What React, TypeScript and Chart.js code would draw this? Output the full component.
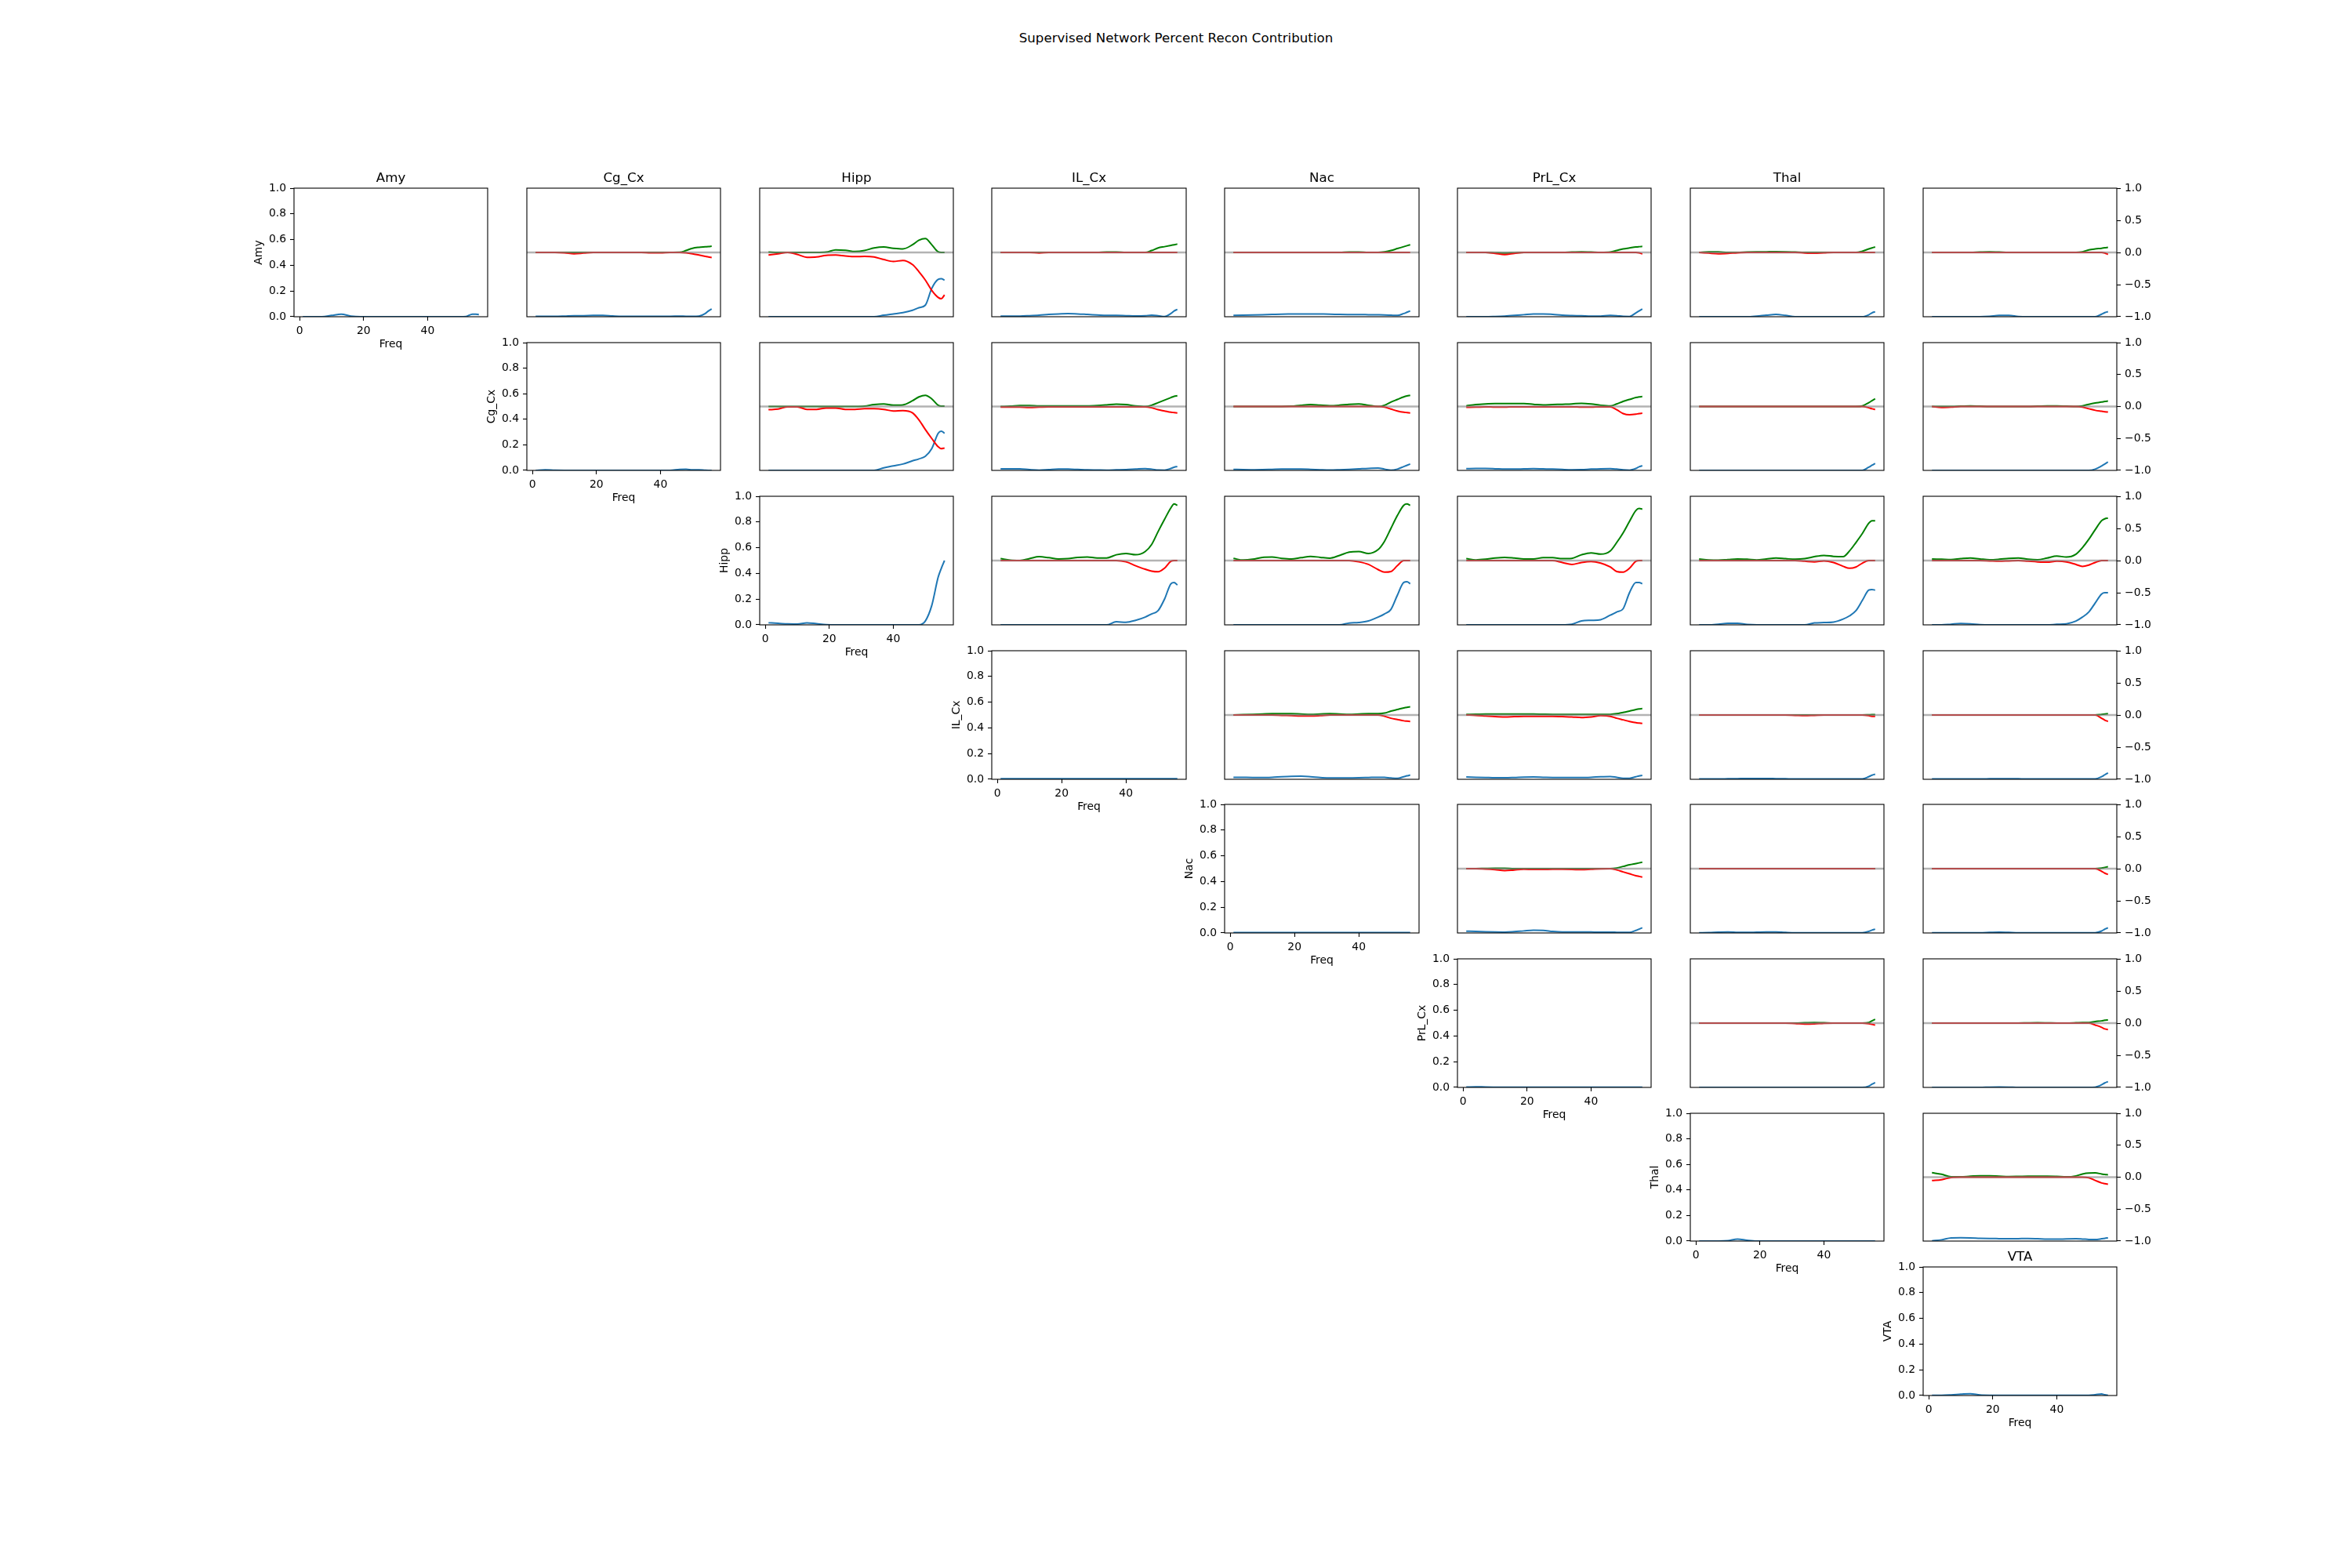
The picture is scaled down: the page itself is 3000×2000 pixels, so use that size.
import React, { useEffect, useRef } from 'react';
import { Chart, registerables } from 'chart.js';

Chart.register(...registerables);
Chart.defaults.font.family = 'DejaVu Sans';
Chart.defaults.color = '#000';

// ---------- labels / ticks ----------
const SUPTITLE = 'Supervised Network Percent Recon Contribution';
const REGIONS = ['Amy', 'Cg_Cx', 'Hipp', 'IL_Cx', 'Nac', 'PrL_Cx', 'Thal', 'VTA'];
const X_LABEL = 'Freq';
const X_TICKS = [0, 20, 40];
const Y_TICKS = [0, 0.2, 0.4, 0.6, 0.8, 1.0];
const Y2_TICKS = [-1, -0.5, 0, 0.5, 1];
const X_RANGE = [-1.75, 58.75];

// ---------- data (frequency knots shared by every series) ----------
const FREQ = [1, 4, 7, 10, 13, 16, 19, 22, 25, 28, 31, 34, 37, 40, 43, 46, 48, 50, 52, 54, 55, 56];

// diagonal: power of each region (left axis 0..1)
const D_0 = [0,0,0,0.01,0.02,0.005,0,0,0,0,0,0,0,0,0,0,0,0,0.002,0.02,0.02,0.017];
const D_1 = [0,0.005,0.001,0,0,0,0,0,0,0,0,0,0,0,0,0.008,0.009,0.004,0.005,0.001,0,0];
const D_2 = [0.016,0.012,0.007,0.006,0.016,0.009,0.002,0,0,0,0,0,0,0,0,0,0,0.03,0.15,0.37,0.44,0.5];
const D_3 = [0.004,0.004,0.004,0.004,0.004,0.004,0.004,0.004,0.004,0.004,0.004,0.004,0.004,0.004,0.004,0.004,0.004,0.004,0.004,0.004,0.004,0.004];
const D_4 = [0.003,0.003,0.003,0.003,0.003,0.003,0.003,0.003,0.003,0.003,0.003,0.003,0.003,0.003,0.003,0.003,0.003,0.003,0.003,0.003,0.003,0.003];
const D_5 = [0.003,0.005,0.003,0.002,0.002,0.002,0.002,0.002,0.002,0.002,0.002,0.002,0.002,0.002,0.002,0.002,0.002,0.002,0.002,0.002,0.002,0.002];
const D_6 = [0,0,0,0.003,0.016,0.006,0,0,0,0,0,0,0,0,0,0,0,0,0,0,0,0];
const D_7 = [0.002,0.002,0.005,0.01,0.014,0.004,0.002,0.002,0.002,0.002,0.002,0.002,0.002,0.002,0.002,0.002,0.002,0.002,0.006,0.012,0.006,0.002];

// off-diagonal: B = blue (left axis 0..1), G = green, R = red (right axis -1..1)
const B_01 = [0.003,0.003,0.003,0.005,0.008,0.008,0.01,0.01,0.006,0.003,0.003,0.003,0.003,0.003,0.003,0.005,0.003,0.003,0.005,0.025,0.045,0.06];
const G_01 = [0,0,0,0,0,0,0,0,0,0,0,0,0,0,0,0.002,0.03,0.065,0.08,0.088,0.092,0.097];
const R_01 = [0,0,0,-0.005,-0.02,-0.01,0,0,0,0,0,0,-0.005,-0.005,0,0,-0.005,-0.02,-0.04,-0.06,-0.07,-0.078];
const B_02 = [0,0,0,0,0,0,0,0,0,0,0,0,0.012,0.022,0.032,0.05,0.07,0.09,0.22,0.29,0.295,0.285];
const G_02 = [0.005,0,0,0,0,0,0.005,0.04,0.035,0.015,0.03,0.07,0.085,0.065,0.055,0.12,0.19,0.215,0.12,0.01,0,0];
const R_02 = [-0.04,-0.02,0,-0.03,-0.075,-0.07,-0.045,-0.04,-0.055,-0.065,-0.06,-0.07,-0.11,-0.14,-0.125,-0.19,-0.3,-0.43,-0.59,-0.7,-0.72,-0.66];
const B_03 = [0.005,0.005,0.005,0.008,0.012,0.018,0.022,0.024,0.022,0.018,0.014,0.01,0.01,0.008,0.006,0.008,0.012,0.008,0.002,0.025,0.045,0.057];
const G_03 = [0,0,0,0,0,0,0,0,0,0,0,0.005,0.005,0,0,0,0.03,0.07,0.09,0.11,0.12,0.13];
const R_03 = [0,0,0,0,-0.008,0,0,0,0,0,0,0,0,0,0,0,0,0,0,0,0,0];
const B_04 = [0.01,0.012,0.014,0.016,0.018,0.02,0.021,0.022,0.022,0.021,0.02,0.018,0.017,0.017,0.016,0.015,0.014,0.012,0.01,0.025,0.035,0.045];
const G_04 = [0,0,0,0,0,0,0,0,0,0,0,0,0.005,0.005,0,0,0.01,0.03,0.06,0.09,0.105,0.12];
const R_04 = [0,0,0,0,0,0,0,0,0,0,0,0,0,0,0,0,0,0,0,0,0,0];
const B_05 = [0,0,0,0.002,0.005,0.01,0.016,0.022,0.022,0.018,0.012,0.009,0.007,0.004,0.005,0.01,0.008,0.003,0.002,0.03,0.045,0.06];
const G_05 = [0,0,0,-0.005,-0.01,-0.005,0,0,0,0,0,0.005,0.01,0.005,0,0.005,0.03,0.055,0.07,0.085,0.09,0.094];
const R_05 = [0,0,0,-0.015,-0.033,-0.015,0,0,0,0,0,0,0,0,0,0,0,0,0,0,-0.005,-0.025];
const B_06 = [0,0,0,0,0,0,0.005,0.012,0.018,0.01,0,0,0,0,0,0,0,0,0,0.015,0.03,0.039];
const G_06 = [0,0.008,0.008,0,0,0.005,0.008,0.01,0.012,0.01,0.005,0,0,0,0,0,0,0,0.02,0.055,0.07,0.086];
const R_06 = [0,-0.01,-0.02,-0.015,-0.005,0,0,0,0,0,0,-0.008,-0.012,-0.006,0,0,0,0,0,0,0,0];
const B_07 = [0,0,0,0,0,0,0.003,0.01,0.01,0.002,0,0,0,0,0,0,0,0,0,0.02,0.032,0.04];
const G_07 = [0,0,0,0,0,0.006,0.01,0.005,0,0,0,0,0,0,0,0,0.01,0.04,0.055,0.065,0.072,0.078];
const R_07 = [0,0,0,0,0,0,0,0,0,0,0,0,0,0,0,0,0,0,0,0,-0.01,-0.03];

const B_12 = [0,0,0,0,0,0,0,0,0,0,0,0,0.02,0.035,0.05,0.075,0.09,0.11,0.17,0.29,0.307,0.29];
const G_12 = [0,0,0,0,0,0,0,0,0,0,0.005,0.03,0.04,0.02,0.025,0.09,0.15,0.175,0.12,0.02,0.005,0.005];
const R_12 = [-0.05,-0.04,-0.005,-0.005,-0.045,-0.045,-0.025,-0.025,-0.045,-0.045,-0.035,-0.035,-0.045,-0.07,-0.065,-0.1,-0.21,-0.36,-0.5,-0.63,-0.66,-0.65];
const B_13 = [0.012,0.013,0.012,0.006,0.002,0.006,0.01,0.01,0.007,0.004,0.003,0.002,0.004,0.006,0.01,0.014,0.01,0.003,0.002,0.015,0.025,0.03];
const G_13 = [0,0.005,0.015,0.015,0.01,0.01,0.01,0.01,0.01,0.01,0.015,0.025,0.037,0.03,0.01,0,0.02,0.06,0.1,0.14,0.16,0.17];
const R_13 = [-0.01,-0.008,-0.01,-0.015,-0.01,-0.005,-0.005,-0.005,-0.005,-0.005,-0.005,-0.005,-0.005,-0.005,-0.005,-0.005,-0.02,-0.05,-0.07,-0.09,-0.095,-0.1];
const B_14 = [0.008,0.006,0.005,0.006,0.008,0.01,0.01,0.01,0.008,0.005,0.003,0.005,0.008,0.012,0.016,0.018,0.01,0.002,0.01,0.03,0.04,0.05];
const G_14 = [0,0,0,0,0,0,0.005,0.02,0.03,0.02,0.012,0.02,0.035,0.04,0.02,0,0.02,0.07,0.11,0.15,0.165,0.176];
const R_14 = [0,0,0,0,0,0,0,0,0,0,0,0,0,0,0,0,-0.01,-0.04,-0.07,-0.09,-0.095,-0.1];
const B_15 = [0.014,0.015,0.015,0.013,0.01,0.01,0.012,0.014,0.012,0.01,0.007,0.005,0.006,0.01,0.013,0.014,0.01,0.004,0.002,0.015,0.028,0.037];
const G_15 = [0.01,0.03,0.04,0.045,0.045,0.045,0.045,0.035,0.025,0.03,0.035,0.04,0.05,0.04,0.02,0.01,0.04,0.08,0.11,0.14,0.15,0.156];
const R_15 = [-0.012,-0.01,-0.005,-0.01,-0.01,-0.005,-0.005,-0.005,-0.005,-0.005,-0.005,-0.005,-0.01,-0.01,-0.005,-0.005,-0.05,-0.11,-0.13,-0.12,-0.11,-0.105];
const B_16 = [0,0,0,0,0,0,0,0,0,0,0,0,0,0,0,0,0,0,0,0.025,0.04,0.055];
const G_16 = [0,0,0,0,0,0,0,0,0,0,0,0,0,0,0,0,0,0,0.01,0.06,0.09,0.12];
const R_16 = [0,0,0,0,0,0,0,0,0,0,0,0,0,0,0,0,0,0,0,-0.02,-0.035,-0.045];
const B_17 = [0,0,0,0,0,0,0,0,0,0,0,0,0,0,0,0,0,0,0.01,0.035,0.05,0.066];
const G_17 = [0,0,0,0.005,0.01,0.005,0,0,0,0,0,0.005,0.01,0.01,0.005,0,0.01,0.035,0.055,0.07,0.08,0.086];
const R_17 = [0,-0.015,-0.01,0,0,0,0,0,0,0,0,0,0,0,0,0,-0.01,-0.035,-0.06,-0.075,-0.082,-0.086];

const B_23 = [0,0,0,0,0,0,0,0,0,0,0,0,0.024,0.02,0.035,0.06,0.085,0.11,0.2,0.32,0.33,0.31];
const G_23 = [0.03,0.005,0,0.03,0.06,0.045,0.025,0.03,0.05,0.055,0.04,0.04,0.09,0.11,0.09,0.14,0.25,0.45,0.64,0.82,0.88,0.86];
const R_23 = [0,0,0,0,0,0,0,0,0,0,0,0,0,-0.02,-0.08,-0.135,-0.165,-0.175,-0.12,-0.01,0,0];
const B_24 = [0,0,0,0,0,0,0,0,0,0,0,0,0.014,0.018,0.03,0.06,0.085,0.12,0.23,0.33,0.335,0.32];
const G_24 = [0.033,0.008,0.02,0.05,0.055,0.035,0.025,0.045,0.065,0.05,0.037,0.08,0.13,0.14,0.11,0.17,0.3,0.5,0.7,0.86,0.88,0.86];
const R_24 = [0,0,0,0,0,0,0,0,0,0,0,0,0,-0.02,-0.06,-0.14,-0.18,-0.17,-0.08,0,0,0];
const B_25 = [0,0,0,0,0,0,0,0,0,0,0,0.005,0.03,0.035,0.04,0.075,0.1,0.125,0.25,0.33,0.33,0.32];
const G_25 = [0.03,0.01,0.02,0.04,0.05,0.04,0.025,0.025,0.045,0.045,0.03,0.035,0.09,0.12,0.1,0.15,0.28,0.43,0.61,0.78,0.81,0.8];
const R_25 = [0,0,0,0,0,0,0,0,0,0,-0.03,-0.06,-0.03,-0.015,-0.04,-0.1,-0.17,-0.18,-0.12,-0.01,0,0];
const B_26 = [0,0,0.005,0.012,0.012,0.003,0,0,0,0,0,0,0.015,0.018,0.022,0.045,0.07,0.11,0.19,0.27,0.275,0.27];
const G_26 = [0.025,0.01,0.005,0.015,0.025,0.02,0.01,0.025,0.04,0.03,0.02,0.03,0.06,0.08,0.065,0.06,0.15,0.28,0.42,0.58,0.62,0.62];
const R_26 = [0,0,0,0,0,0,0,0,0,0,0,-0.01,-0.02,-0.005,-0.03,-0.09,-0.12,-0.1,-0.04,0,0,0];
const B_27 = [0,0,0.005,0.01,0.008,0.002,0,0,0,0,0,0,0,0.004,0.008,0.03,0.06,0.1,0.17,0.24,0.25,0.25];
const G_27 = [0.025,0.02,0.015,0.03,0.04,0.025,0.012,0.02,0.035,0.04,0.02,0.012,0.04,0.07,0.055,0.1,0.2,0.33,0.48,0.62,0.65,0.66];
const R_27 = [0,0,0,0,0,0,-0.005,-0.01,-0.005,0,-0.01,-0.02,-0.025,-0.01,-0.02,-0.06,-0.09,-0.07,-0.03,0,0,0];

const B_34 = [0.016,0.015,0.014,0.014,0.016,0.02,0.023,0.024,0.02,0.014,0.01,0.01,0.011,0.012,0.014,0.016,0.015,0.01,0.007,0.02,0.027,0.033];
const G_34 = [0,0.005,0.01,0.015,0.02,0.02,0.02,0.015,0.01,0.015,0.02,0.015,0.01,0.015,0.02,0.02,0.03,0.06,0.085,0.11,0.12,0.127];
const R_34 = [0,0,0,0,0,-0.005,-0.01,-0.015,-0.016,-0.01,0,0,0,0,0,0,-0.02,-0.05,-0.07,-0.09,-0.095,-0.1];
const B_35 = [0.018,0.016,0.014,0.012,0.012,0.014,0.017,0.018,0.016,0.014,0.013,0.014,0.014,0.016,0.02,0.022,0.015,0.008,0.008,0.02,0.026,0.03];
const G_35 = [0.01,0.012,0.015,0.015,0.015,0.015,0.015,0.015,0.012,0.01,0.01,0.01,0.01,0.01,0.01,0.01,0.02,0.04,0.06,0.085,0.095,0.1];
const R_35 = [0,-0.005,-0.015,-0.025,-0.03,-0.025,-0.02,-0.02,-0.02,-0.02,-0.025,-0.03,-0.04,-0.03,-0.01,-0.02,-0.05,-0.075,-0.1,-0.12,-0.125,-0.13];
const B_36 = [0.003,0.003,0.003,0.004,0.005,0.006,0.006,0.006,0.005,0.004,0.003,0.003,0.003,0.003,0.003,0.003,0.003,0.003,0.003,0.02,0.032,0.04];
const G_36 = [0,0,0,0,0,0,0,0,0,0,0,0,0,0,0,0,0,0,0,0.003,0.005,0.005];
const R_36 = [0,0,0,0,0,0,0,0,0,0,-0.005,-0.01,-0.005,0,0,0,0,0,0,-0.01,-0.02,-0.02];
const B_37 = [0.003,0.003,0.003,0.003,0.003,0.003,0.004,0.005,0.005,0.004,0.003,0.003,0.003,0.003,0.003,0.003,0.003,0.003,0.003,0.02,0.035,0.05];
const G_37 = [0,0,0,0,0,0,0,0,0,0,0,0,0,0,0,0,0,0,0,0.01,0.015,0.02];
const R_37 = [0,0,0,0,0,0,0,0,0,0,0,0,0,0,0,0,0,0,0,-0.05,-0.08,-0.1];

const B_45 = [0.014,0.012,0.009,0.007,0.006,0.01,0.016,0.021,0.02,0.012,0.008,0.008,0.008,0.007,0.006,0.006,0.005,0.004,0.004,0.02,0.03,0.04];
const G_45 = [0,0,0.003,0.005,0.005,0,0,0,0,0,0,0,0,0,0,0,0.01,0.035,0.06,0.08,0.09,0.1];
const R_45 = [0,0,-0.005,-0.015,-0.03,-0.02,-0.01,-0.012,-0.012,-0.01,-0.01,-0.012,-0.016,-0.01,-0.003,0,-0.02,-0.05,-0.08,-0.11,-0.12,-0.13];
const B_46 = [0.002,0.003,0.006,0.008,0.005,0.004,0.006,0.008,0.007,0.004,0.002,0.002,0.002,0.002,0.002,0.002,0.002,0.002,0.002,0.012,0.022,0.03];
const G_46 = [0,0,0,0,0,0,0,0,0,0,0,0,0,0,0,0,0,0,0,0,0,0];
const R_46 = [0,0,0,0,0,0,0,0,0,0,0,0,0,0,0,0,0,0,0,0,0,0];
const B_47 = [0.002,0.002,0.002,0.002,0.002,0.002,0.004,0.006,0.004,0.002,0.002,0.002,0.002,0.002,0.002,0.002,0.002,0.002,0.002,0.015,0.03,0.04];
const G_47 = [0,0,0,0,0,0,0,0,0,0,0,0,0,0,0,0,0,0,0,0.01,0.02,0.03];
const R_47 = [0,0,0,0,0,0,0,0,0,0,0,0,0,0,0,0,0,0,0,-0.04,-0.07,-0.09];

const B_56 = [0,0,0,0,0,0,0,0,0,0,0,0,0,0,0,0,0,0,0,0.01,0.025,0.037];
const G_56 = [0,0,0,0,0,0,0,0,0,0,0,0.005,0.01,0.005,0,0,0,0,0,0.01,0.035,0.06];
const R_56 = [0,0,0,0,0,0,0,0,0,0,-0.005,-0.015,-0.012,-0.003,0,0,0,0,0,-0.01,-0.02,-0.03];
const B_57 = [0,0,0,0,0,0,0.002,0.003,0.002,0,0,0,0,0,0,0,0,0,0.002,0.02,0.035,0.045];
const G_57 = [0,0,0,0,0,0,0,0,0,0,0.003,0.005,0.003,0,0,0.005,0.01,0.01,0.025,0.035,0.045,0.05];
const R_57 = [0,0,0,0,0,0,0,0,0,0,0,0,0,0,0,0,0,0,-0.03,-0.065,-0.09,-0.1];

const B_67 = [0.002,0.01,0.025,0.026,0.025,0.022,0.02,0.019,0.018,0.019,0.02,0.018,0.015,0.015,0.017,0.018,0.016,0.013,0.012,0.018,0.022,0.025];
const G_67 = [0.07,0.045,0.005,0.005,0.015,0.02,0.02,0.015,0.01,0.012,0.015,0.015,0.016,0.012,0.005,0.02,0.05,0.065,0.066,0.05,0.042,0.037];
const R_67 = [-0.053,-0.04,-0.005,0,0,0,0,0,0,0,0,0,0,0,0,0,0,-0.01,-0.05,-0.09,-0.1,-0.11];

// lookup tables built from the arrays above
const DIAG: any[] = [D_0, D_1, D_2, D_3, D_4, D_5, D_6, D_7];
const OFF: Record<string, any[][]> = {
  '0-1': [B_01, G_01, R_01], '0-2': [B_02, G_02, R_02], '0-3': [B_03, G_03, R_03], '0-4': [B_04, G_04, R_04],
  '0-5': [B_05, G_05, R_05], '0-6': [B_06, G_06, R_06], '0-7': [B_07, G_07, R_07],
  '1-2': [B_12, G_12, R_12], '1-3': [B_13, G_13, R_13], '1-4': [B_14, G_14, R_14], '1-5': [B_15, G_15, R_15],
  '1-6': [B_16, G_16, R_16], '1-7': [B_17, G_17, R_17],
  '2-3': [B_23, G_23, R_23], '2-4': [B_24, G_24, R_24], '2-5': [B_25, G_25, R_25], '2-6': [B_26, G_26, R_26], '2-7': [B_27, G_27, R_27],
  '3-4': [B_34, G_34, R_34], '3-5': [B_35, G_35, R_35], '3-6': [B_36, G_36, R_36], '3-7': [B_37, G_37, R_37],
  '4-5': [B_45, G_45, R_45], '4-6': [B_46, G_46, R_46], '4-7': [B_47, G_47, R_47],
  '5-6': [B_56, G_56, R_56], '5-7': [B_57, G_57, R_57],
  '6-7': [B_67, G_67, R_67],
};

// ---------- styling / layout ----------
const BLUE = '#1f77b4';
const GREEN = '#008000';
const RED = '#ff0000';
const ZERO_LINE = 'rgba(128,128,128,0.6)';
const TICK_FONT = 13.9;
const TITLE_FONT = 16.67;

const AX_LEFT = 375, AX_TOP = 240, AX_W = 247.34, AX_H = 163.83, PITCH_X = 296.81, PITCH_Y = 196.6;
const PAD_L = 53, PAD_R = 50, PAD_T = 30, PAD_B = 44;

const fmt1 = (v: number) => (v < 0 ? '\u2212' : '') + Math.abs(v).toFixed(1);

const framePlugin = {
  id: 'frame',
  afterDatasetsDraw(chart: any, _args: any, opts: any) {
    if (!opts || !opts.zeroLine) return;
    const { ctx, chartArea: a, scales } = chart;
    const y = scales.y2.getPixelForValue(0);
    ctx.save();
    ctx.beginPath();
    ctx.rect(a.left, a.top, a.right - a.left, a.bottom - a.top);
    ctx.clip();
    ctx.strokeStyle = ZERO_LINE;
    ctx.lineWidth = 2.4;
    ctx.beginPath();
    ctx.moveTo(a.left, y);
    ctx.lineTo(a.right, y);
    ctx.stroke();
    ctx.restore();
  },
  afterDraw(chart: any) {
    const { ctx, chartArea: a } = chart;
    ctx.save();
    ctx.strokeStyle = '#000';
    ctx.lineWidth = 1.1;
    ctx.strokeRect(a.left, a.top, a.right - a.left, a.bottom - a.top);
    ctx.restore();
  },
};

function pts(arr: number[]) {
  return FREQ.map((f, i) => ({ x: f, y: arr[i] }));
}

// Chart.js paints dataset index 0 last (on top); "layer" keeps matplotlib's order
function line(arr: number[], color: string, axis: string, layer: number) {
  return {
    data: pts(arr),
    borderColor: color,
    backgroundColor: color,
    borderWidth: 2,
    pointRadius: 0,
    fill: false,
    cubicInterpolationMode: 'monotone',
    clip: 0,
    yAxisID: axis,
    order: layer,
  };
}

function Cell({ r, c }: { r: number; c: number }) {
  const ref = useRef<HTMLCanvasElement | null>(null);
  const diag = r === c;
  const boxLeft = Math.round(AX_LEFT + c * PITCH_X);
  const boxTop = Math.round(AX_TOP + r * PITCH_Y);
  const boxW = Math.round(AX_LEFT + c * PITCH_X + AX_W) - boxLeft;
  const boxH = Math.round(AX_TOP + r * PITCH_Y + AX_H) - boxTop;
  const w = boxW + PAD_L + PAD_R;
  const h = boxH + PAD_T + PAD_B;
  const title = r === 0 && c < 7 ? REGIONS[c] : r === 7 && c === 7 ? REGIONS[7] : '';
  const showRight = !diag && c === 7;

  useEffect(() => {
    if (!ref.current) return;
    const datasets = diag
      ? [line(DIAG[r], BLUE, 'y', 3)]
      : (() => {
          const [b, g, rd] = OFF[`${r}-${c}`];
          return [line(rd, RED, 'y2', 1), line(g, GREEN, 'y2', 2), line(b, BLUE, 'y', 3)];
        })();
    const tickGrid = (show: boolean) => ({
      display: show,
      drawOnChartArea: false,
      drawTicks: true,
      tickLength: 5,
      tickColor: '#000',
      tickWidth: 1.1,
    });
    const chart = new Chart(ref.current, {
      type: 'line',
      data: { datasets } as any,
      plugins: [framePlugin],
      options: {
        responsive: false,
        maintainAspectRatio: false,
        animation: false,
        events: [],
        layout: { padding: 0, autoPadding: false },
        plugins: {
          legend: { display: false },
          tooltip: { enabled: false },
          title: {
            display: true,
            text: title,
            fullSize: false,
            color: '#000',
            font: { size: TITLE_FONT, weight: 'normal', lineHeight: 1.2 },
            padding: { top: 8, bottom: 2 },
          },
          frame: { zeroLine: !diag },
        } as any,
        scales: {
          x: {
            type: 'linear',
            position: 'bottom',
            min: X_RANGE[0],
            max: X_RANGE[1],
            afterBuildTicks: (s: any) => { s.ticks = X_TICKS.map((v) => ({ value: v })); },
            afterFit: (s: any) => { s.height = PAD_B; },
            grid: tickGrid(diag),
            border: { display: false },
            ticks: { display: diag, padding: 5, maxRotation: 0, autoSkip: false, font: { size: TICK_FONT }, callback: (v: any) => String(v) },
            title: { display: diag, text: X_LABEL, padding: 0, font: { size: TICK_FONT } },
          },
          y: {
            type: 'linear',
            position: 'left',
            min: 0,
            max: 1,
            afterBuildTicks: (s: any) => { s.ticks = Y_TICKS.map((v) => ({ value: v })); },
            afterFit: (s: any) => { s.width = PAD_L; },
            grid: tickGrid(diag),
            border: { display: false },
            ticks: { display: diag, padding: 5, autoSkip: false, font: { size: TICK_FONT }, callback: (v: any) => fmt1(Number(v)) },
            title: { display: diag, text: REGIONS[r], padding: 0, font: { size: TICK_FONT } },
          },
          y2: {
            type: 'linear',
            position: 'right',
            min: -1,
            max: 1,
            afterBuildTicks: (s: any) => { s.ticks = Y2_TICKS.map((v) => ({ value: v })); },
            afterFit: (s: any) => { s.width = PAD_R; },
            grid: tickGrid(showRight),
            border: { display: false },
            ticks: { display: showRight, padding: 5, autoSkip: false, font: { size: TICK_FONT }, callback: (v: any) => fmt1(Number(v)) },
          },
        } as any,
      } as any,
    });
    return () => chart.destroy();
  }, []);

  return (
    <canvas
      ref={ref}
      width={w}
      height={h}
      style={{ position: 'absolute', left: boxLeft - PAD_L, top: boxTop - PAD_T, width: w, height: h }}
    />
  );
}

export default function App() {
  const cells: { r: number; c: number }[] = [];
  for (let r = 0; r < 8; r++) for (let c = r; c < 8; c++) cells.push({ r, c });
  return (
    <div style={{ position: 'absolute', left: 0, top: 0, width: 3000, height: 2000, background: '#fff', overflow: 'hidden' }}>
      <div
        style={{
          position: 'absolute', left: 0, top: 39, width: 3000, textAlign: 'center',
          fontFamily: 'DejaVu Sans', fontSize: TITLE_FONT, lineHeight: '20px', color: '#000',
        }}
      >
        {SUPTITLE}
      </div>
      {cells.map(({ r, c }) => (
        <Cell key={`${r}-${c}`} r={r} c={c} />
      ))}
    </div>
  );
}
